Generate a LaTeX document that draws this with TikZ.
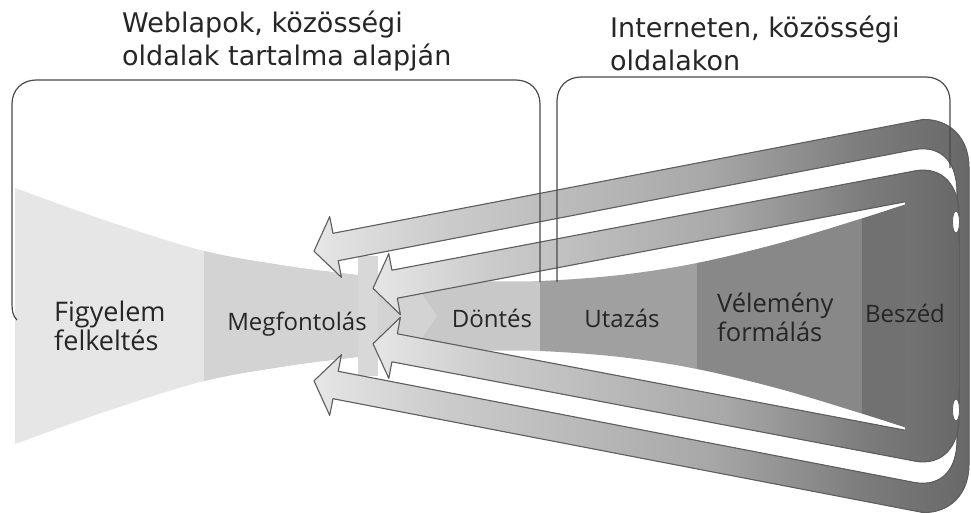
\documentclass[tikz,border=0pt]{standalone}
\usepackage{fontspec}
\setmainfont{Open Sans}
\newfontfamily\titlefont{DejaVu Sans}
\definecolor{cFig}{HTML}{E6E6E6}
\definecolor{cMeg}{HTML}{D3D3D3}
\definecolor{cStrip}{HTML}{D8D8D8}
\definecolor{cDon}{HTML}{C8C8C8}
\definecolor{cUta}{HTML}{A0A0A0}
\definecolor{cVel}{HTML}{888888}
\definecolor{cBes}{HTML}{717171}
\definecolor{cLine}{HTML}{5E5E5E}
\definecolor{cBox}{HTML}{4A4A4A}
\definecolor{cText}{HTML}{262626}
\definecolor{aA}{HTML}{E6E6E6}
\definecolor{aB}{HTML}{CBCBCB}
\definecolor{aC}{HTML}{A8A8A8}
\definecolor{aD}{HTML}{7C7C7C}
\definecolor{aE}{HTML}{686868}
\pgfdeclarehorizontalshading{arrowshade}{100bp}{color(0bp)=(aA); color(25bp)=(aA); color(35bp)=(aB); color(55bp)=(aC); color(67bp)=(aD); color(75bp)=(aE); color(100bp)=(aE)}
\tikzset{
  aline/.style={draw=cLine, line width=1.1pt, line join=round},
  bline/.style={draw=cBox, line width=1.2pt},
  ttl/.style={font=\titlefont\fontsize{27}{33}\selectfont, text=cText, inner sep=0pt, anchor=base west},
  lbl/.style={font=\fontsize{24}{28}\selectfont, text=cText, inner sep=0pt},
  lblbig/.style={font=\fontsize{27}{30}\selectfont, text=cText, inner sep=0pt},
  lblmid/.style={font=\fontsize{25.5}{30}\selectfont, text=cText, inner sep=0pt},
}
\newcommand\outerhalf{%
  \fill[shading=arrowshade] (969,316) -- (969,168) .. controls (969,138) and (950,119) .. (923,119.5)
    -- (333.0,233.3) -- (329.7,216.6) -- (314,251.2) -- (341.5,277.4) -- (338.2,260.7)
    -- (915,149.4) .. controls (942,145) and (957,163) .. (957,192) -- (957,316) -- cycle;
  \draw[aline] (957,245) -- (957,192) .. controls (957,163) and (942,145) .. (915,149.4)
    -- (338.2,260.7) -- (341.5,277.4) -- (314,251.2) -- (329.7,216.6) -- (333.0,233.3)
    -- (923,119.5) .. controls (950,119) and (969,138) .. (969,168) -- (969,316);
}
\newcommand\innerhalf{%
  \fill[shading=arrowshade] (959,316) -- (959,215) .. controls (959,185) and (942,166) .. (915,170.9)
    -- (391.9,270.2) -- (388.8,253.7) -- (373,288.3) -- (400.4,314.7) -- (397.3,298.2)
    -- (905,201.8) -- (905,316) -- cycle;
  \draw[aline] (905,201.8) -- (397.3,298.2) -- (400.4,314.7) -- (373,288.3) -- (388.8,253.7)
    -- (391.9,270.2) -- (915,170.9) .. controls (942,166) and (959,185) .. (959,215) -- (959,245);
}
\begin{document}
\begin{tikzpicture}[x=1pt,y=-1pt]
\useasboundingbox (0,0) rectangle (971,512);
\fill[white] (0,0) rectangle (971,512);
% funnel
\begin{scope}
\clip plot[smooth,tension=0.55] coordinates {(15,188) (110,222) (204,251) (280,265) (340,273) (400,279) (470,281) (540,281) (620,275) (697,263) (780,243) (860,219) (910,203) (950,192)}
  -- (950,440) -- plot[smooth,tension=0.55] coordinates {(910,429) (860,413) (780,389) (697,369) (620,357) (540,351) (470,351) (400,353) (340,359) (280,367) (204,381) (110,410) (15,444)} -- cycle;
\fill[cFig] (0,150) rectangle (204,500);
\fill[cDon] (204,150) rectangle (540,500);
\fill[cMeg] (204,150) -- (412,150) -- (412,280) -- (437,316) -- (412,352) -- (412,500) -- (204,500) -- cycle;
\fill[cUta] (540,150) rectangle (697,500);
\fill[cVel] (697,150) rectangle (862,500);
\fill[cBes] (862,150) rectangle (971,500);
\end{scope}
\fill[cStrip] (358,256) rectangle (378,376);
% arrows
\outerhalf
\begin{scope}[shift={(0,632)},yscale=-1]\outerhalf\end{scope}
\innerhalf
\begin{scope}[shift={(0,632)},yscale=-1]\innerhalf\end{scope}
\filldraw[fill=white, draw=cLine, line width=0.8pt] (956,222) ellipse [x radius=3.5, y radius=11];
\filldraw[fill=white, draw=cLine, line width=0.8pt] (956,410) ellipse [x radius=3.5, y radius=11];
% brackets
\draw[bline] (17,320) .. controls (13,316) and (12,312) .. (12,302) -- (12,104) .. controls (12,90) and (22,80) .. (36,80) -- (516,80) .. controls (530,80) and (540,90) .. (540,104) -- (540,282);
\draw[bline] (557,282) -- (557,101) .. controls (557,87) and (567,77) .. (581,77) -- (926,77) .. controls (940,77) and (950,87) .. (950,101) -- (950,168);
% titles
\node[ttl] (t1a) at (122,32) {Weblapok, közösségi};
\node[ttl] (t1b) at (122,65) {oldalak tartalma alapján};
\node[ttl] (t2a) at (610,37) {Interneten, közösségi};
\node[ttl] (t2b) at (610,70) {oldalakon};
% labels
\node[lblbig, anchor=base west] (fig1) at (54,321) {Figyelem};
\node[lblbig, anchor=base west] (fig2) at (54,350) {felkeltés};
\node[lbl, anchor=base] (meg) at (297,330) {Megfontolás};
\node[lbl, anchor=base] (don) at (492,327) {Döntés};
\node[lbl, anchor=base] (uta) at (622,327) {Utazás};
\node[lblmid, anchor=base west] (vel1) at (717,312) {Vélemény};
\node[lblmid, anchor=base west] (vel2) at (717,341) {formálás};
\node[lbl, anchor=base] (bes) at (905,322) {Beszéd};
\end{tikzpicture}
\end{document}
